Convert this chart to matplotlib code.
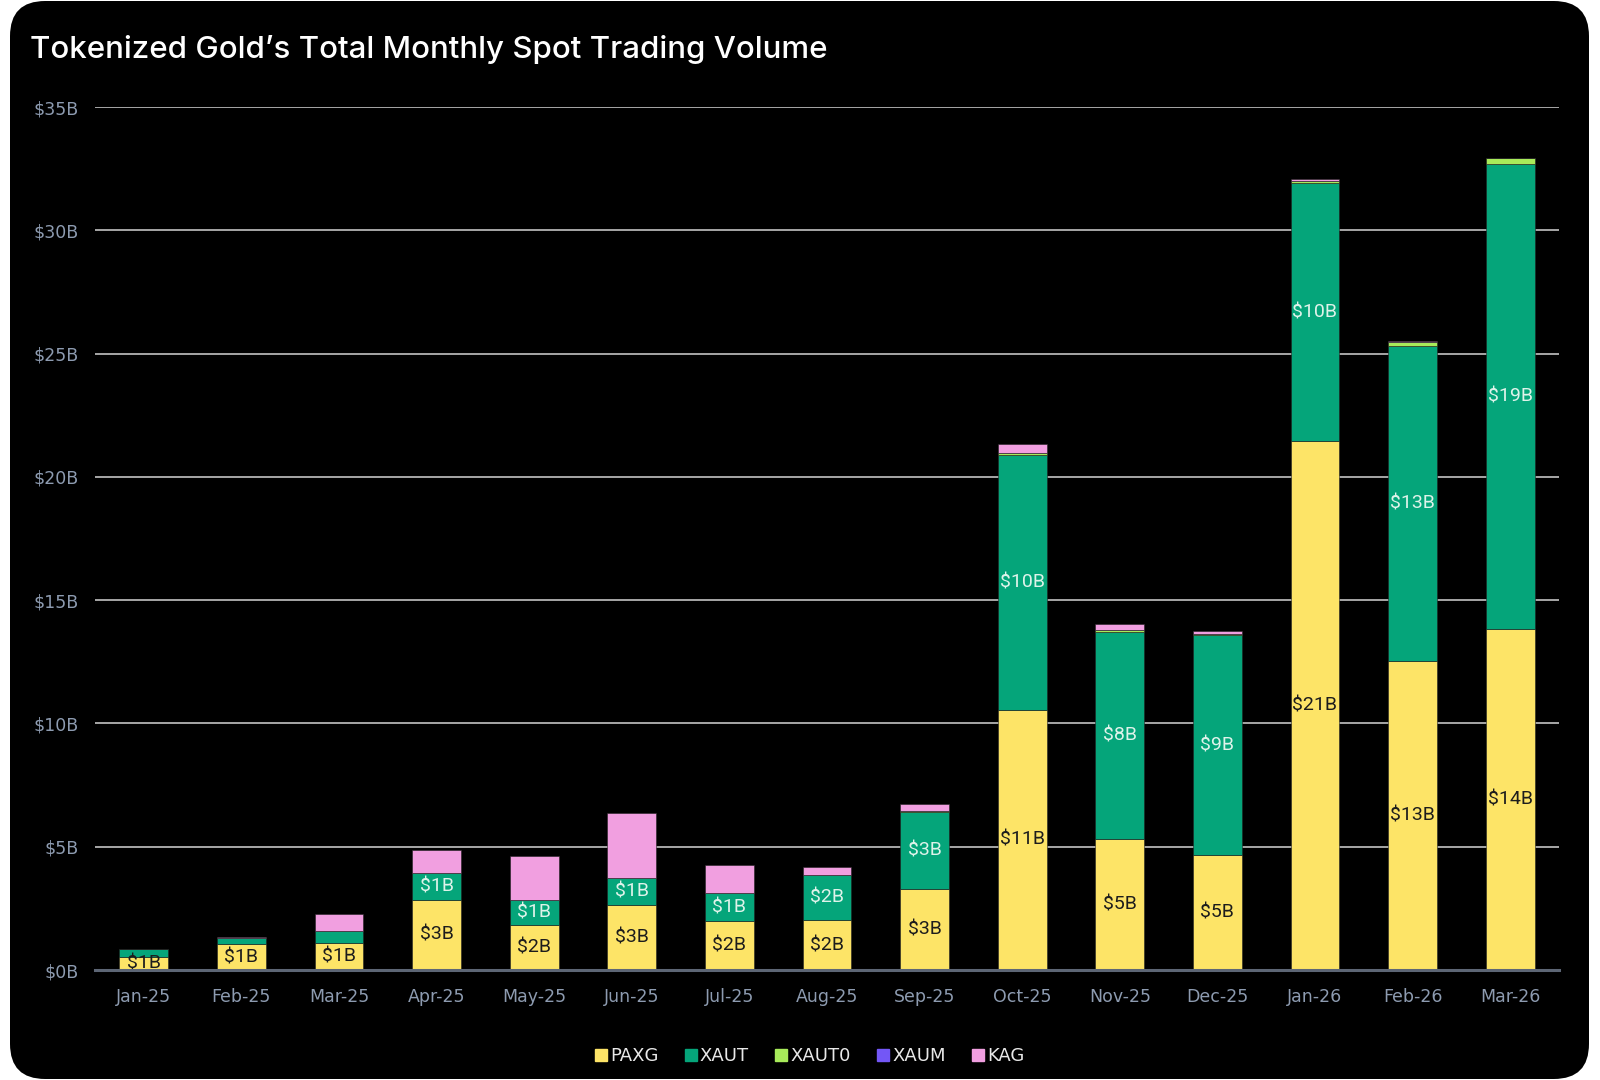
import matplotlib
matplotlib.use("Agg")
import matplotlib.pyplot as plt
from matplotlib.patches import FancyBboxPatch
from matplotlib.lines import Line2D
import numpy as np

months = ["Jan-25", "Feb-25", "Mar-25", "Apr-25", "May-25", "Jun-25", "Jul-25",
          "Aug-25", "Sep-25", "Oct-25", "Nov-25", "Dec-25", "Jan-26", "Feb-26", "Mar-26"]
paxg = [0.54, 1.04, 1.11, 2.84, 1.84, 2.65, 1.99, 2.01, 3.27, 10.56, 5.30, 4.65, 21.45, 12.55, 13.82]
xaut = [0.30, 0.25, 0.47, 1.11, 1.00, 1.08, 1.12, 1.86, 3.15, 10.32, 8.39, 8.95, 10.45, 12.75, 18.86]
xaut0 = [0.00, 0.00, 0.00, 0.00, 0.00, 0.00, 0.00, 0.00, 0.02, 0.09, 0.10, 0.04, 0.10, 0.17, 0.24]
xaum = [0.00, 0.00, 0.00, 0.00, 0.00, 0.00, 0.00, 0.00, 0.00, 0.00, 0.00, 0.00, 0.00, 0.00, 0.00]
kag = [0.03, 0.04, 0.68, 0.90, 1.78, 2.64, 1.14, 0.30, 0.31, 0.36, 0.23, 0.12, 0.08, 0.02, 0.00]
yticks = [0, 5, 10, 15, 20, 25, 30, 35]
ytick_labels = ["$0B", "$5B", "$10B", "$15B", "$20B", "$25B", "$30B", "$35B"]
series_names = ["PAXG", "XAUT", "XAUT0", "XAUM", "KAG"]
series_colors = ["#FDE467", "#05A57A", "#A8EB5A", "#7357F6", "#F19FE0"]

fig = plt.figure(figsize=(16, 10.8), dpi=100)
fig.patch.set_facecolor("white")
frame = FancyBboxPatch((10 / 1600, 1 / 1080), 1579 / 1600, 1078 / 1080,
                       boxstyle="round,pad=0,rounding_size=0.022",
                       transform=fig.transFigure, facecolor="black", edgecolor="none",
                       mutation_aspect=1600 / 1080, zorder=-10)
fig.patches.append(frame)

ax = fig.add_axes([95 / 1600, 1 - 970 / 1080, (1559 - 95) / 1600, (970 - 107) / 1080])
ax.set_facecolor("none")
ax.set_zorder(2)
x = np.arange(len(months))
bottom = np.zeros(len(months))
series = [paxg, xaut, xaut0, xaum, kag]
for name, vals, col in zip(series_names, series, series_colors):
    vals = np.array(vals)
    ax.bar(x, vals, 0.5, bottom=bottom, color=col, edgecolor="#222222", linewidth=0.4, zorder=3)
    if name in ("PAXG", "XAUT"):
        tcol = "#1c1c1c" if name == "PAXG" else "#dff3ea"
        for xi, v, b in zip(x, vals, bottom):
            if v >= 0.5:
                ax.text(xi, b + v / 2, f"${v:.0f}B", ha="center", va="center",
                        fontsize=14, color=tcol, family=["Roboto", "DejaVu Sans"], zorder=4)
    bottom = bottom + vals

ax.set_xlim(-0.5, len(months) - 0.5)
ax.set_ylim(0, 35)
ax.set_yticks(yticks)
ax.set_yticklabels(ytick_labels)
ax.set_xticks(x)
ax.set_xticklabels(months)
ax.grid(axis="y", color="#d4d4d4", linewidth=1.1, zorder=1)
ax.set_axisbelow(True)
for s in ["top", "right", "left"]:
    ax.spines[s].set_visible(False)
ax.spines["bottom"].set_color("#5d6675")
ax.spines["bottom"].set_linewidth(2.2)
ax.spines["bottom"].set_zorder(5)
ax.tick_params(axis="both", length=0, colors="#8d9bb0", labelsize=12.5)
ax.tick_params(axis="y", pad=12)
ax.tick_params(axis="x", pad=13)
for lbl in ax.get_yticklabels() + ax.get_xticklabels():
    lbl.set_family(["DejaVu Sans"])

fig.text(30 / 1600, 1 - 49 / 1080, "Tokenized Gold\u2019s Total Monthly Spot Trading Volume",
         color="white", fontsize=22.5, fontweight="medium", family=["Inter", "DejaVu Sans"],
         va="center", ha="left")

handles = [Line2D([0], [0], marker="s", linestyle="none", markersize=9,
                  markerfacecolor=c, markeredgecolor=c) for c in series_colors]
leg = fig.legend(handles, series_names, loc="center", bbox_to_anchor=(0.506, 1 - 1056 / 1080),
                 ncol=5, frameon=False, handlelength=0.7, handletextpad=0.15, columnspacing=1.45,
                 prop={"family": ["DejaVu Sans"], "size": 13})
for t in leg.get_texts():
    t.set_color("#e8e8e8")

fig.savefig("out.png", dpi=100, facecolor="white")
